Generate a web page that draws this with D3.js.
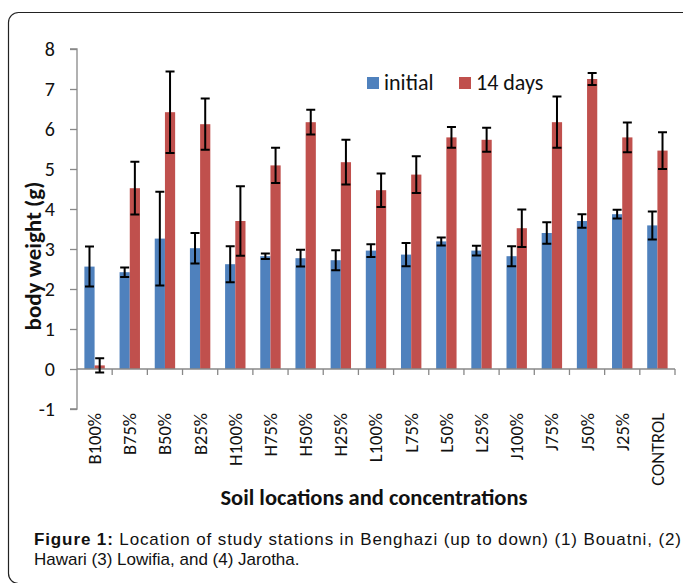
<!DOCTYPE html>
<html lang="en">
<head>
    <meta charset="utf-8" />
    <script src="https://d3js.org/d3.v7.min.js"></script>
    <style>
        body { margin: 0; background: #fff; }
        svg { display: block; }
    </style>
</head>
<body>
<div id="chart"></div>
<script>
    // categories and values
    var categories = ["B100%", "B75%", "B50%", "B25%", "H100%", "H75%", "H50%", "H25%",
        "L100%", "L75%", "L50%", "L25%", "J100%", "J75%", "J50%", "J25%", "CONTROL"];
    var initial = [2.56, 2.42, 3.26, 3.02, 2.62, 2.82, 2.77, 2.72, 2.96, 2.86, 3.19, 2.96, 2.82, 3.40, 3.70, 3.87, 3.59];
    var initialErr = [0.50, 0.12, 1.17, 0.38, 0.45, 0.07, 0.21, 0.25, 0.16, 0.29, 0.10, 0.12, 0.25, 0.27, 0.17, 0.11, 0.35];
    var days14 = [0.09, 4.52, 6.42, 6.12, 3.70, 5.09, 6.17, 5.17, 4.47, 4.86, 5.79, 5.73, 3.52, 6.17, 7.25, 5.79, 5.46];
    var days14Err = [0.18, 0.66, 1.02, 0.64, 0.87, 0.44, 0.31, 0.56, 0.42, 0.46, 0.26, 0.30, 0.47, 0.64, 0.15, 0.37, 0.46];
    var yTicks = [-1, 0, 1, 2, 3, 4, 5, 6, 7, 8];
    var seriesNames = ["initial", "14 days"];
    var colors = ["#4F81BD", "#C0504D"];

    var W = 683, H = 583;
    var calibri = "Carlito, Lato, 'Open Sans', sans-serif";

    var svg = d3.select("#chart").append("svg")
        .attr("width", W).attr("height", H);

    // cadre arrondi
    svg.append("rect")
        .attr("x", 8.5).attr("y", 12.5)
        .attr("width", 700).attr("height", 571)
        .attr("rx", 10)
        .attr("fill", "none")
        .attr("stroke", "#222")
        .attr("stroke-width", 1.2);

    var x = d3.scaleBand().domain(categories).range([77, 675]);
    var y = d3.scaleLinear().domain([-1, 8]).range([409, 49]);
    var barW = x.bandwidth() * 0.29;

    // axe Y
    var yAxis = svg.append("g")
        .attr("transform", "translate(77,0)")
        .call(d3.axisLeft(y).tickValues(yTicks).tickSize(7).tickFormat(function (d) { return String(d); }));
    yAxis.select(".domain").attr("stroke", "#888").attr("stroke-width", 1.3)
        .attr("d", "M-7," + y(8) + "H0V" + y(-1) + "H-7");
    yAxis.selectAll(".tick line").attr("stroke", "#888").attr("stroke-width", 1.3);
    yAxis.selectAll(".tick text")
        .attr("x", -22)
        .style("font-family", calibri)
        .style("font-size", "20px")
        .attr("fill", "#111");

    // bars
    var series = [initial, days14];
    var errs = [initialErr, days14Err];
    series.forEach(function (vals, s) {
        var g = svg.append("g").attr("class", "serie" + s);
        g.selectAll("rect")
            .data(vals)
            .enter()
            .append("rect")
            .attr("x", function (d, i) { return x(categories[i]) + x.bandwidth() / 2 - barW + s * barW; })
            .attr("width", barW)
            .attr("y", function (d) { return y(Math.max(d, 0)); })
            .attr("height", function (d) { return Math.abs(y(d) - y(0)); })
            .attr("fill", colors[s]);
    });

    // axe X (ligne a zero)
    var xAxis = svg.append("g")
        .attr("transform", "translate(0," + y(0) + ")");
    xAxis.append("line")
        .attr("x1", 77).attr("x2", 675)
        .attr("stroke", "#888").attr("stroke-width", 1.3);
    xAxis.selectAll(".tk")
        .data(categories)
        .enter()
        .append("line")
        .attr("x1", function (d) { return x(d) + x.step(); })
        .attr("x2", function (d) { return x(d) + x.step(); })
        .attr("y1", 0).attr("y2", 6)
        .attr("stroke", "#888").attr("stroke-width", 1.3);

    // error bars
    series.forEach(function (vals, s) {
        var g = svg.append("g").attr("class", "err" + s);
        vals.forEach(function (v, i) {
            var cx = x(categories[i]) + x.bandwidth() / 2 - barW / 2 + s * barW;
            var e = errs[s][i];
            g.append("path")
                .attr("d", "M" + cx + "," + y(v + e) + "V" + y(v - e) +
                    "M" + (cx - 4.5) + "," + y(v + e) + "H" + (cx + 4.5) +
                    "M" + (cx - 4.5) + "," + y(v - e) + "H" + (cx + 4.5))
                .attr("stroke", "#000")
                .attr("stroke-width", 2)
                .attr("fill", "none");
        });
    });

    // labels categories (verticaux)
    svg.append("g").selectAll("text")
        .data(categories)
        .enter()
        .append("text")
        .attr("transform", function (d) {
            return "translate(" + (x(d) + x.bandwidth() / 2) + ",413) rotate(-90)";
        })
        .attr("text-anchor", "end")
        .attr("dy", "0.35em")
        .style("font-family", calibri)
        .style("font-size", "18.5px")
        .attr("fill", "#111")
        .text(function (d) { return d; });

    // titres des axes
    svg.append("text")
        .attr("transform", "translate(41,256) rotate(-90)")
        .attr("text-anchor", "middle")
        .style("font-family", calibri)
        .style("font-size", "23px")
        .style("font-weight", "bold")
        .attr("fill", "#111")
        .text("body weight (g)");

    svg.append("text")
        .attr("x", 374).attr("y", 505)
        .attr("text-anchor", "middle")
        .style("font-family", calibri)
        .style("font-size", "22.5px")
        .style("font-weight", "bold")
        .attr("fill", "#111")
        .text("Soil locations and concentrations");

    // legende
    var legX = [367, 459];
    var leg = svg.append("g");
    seriesNames.forEach(function (n, s) {
        leg.append("rect")
            .attr("x", legX[s]).attr("y", 77)
            .attr("width", 12).attr("height", 12)
            .attr("fill", colors[s]);
        leg.append("text")
            .attr("x", legX[s] + 17).attr("y", 90)
            .style("font-family", calibri)
            .style("font-size", "22px")
            .attr("fill", "#111")
            .text(n);
    });

    // legende de la figure (premiere ligne justifiee)
    var cap = svg.append("g")
        .style("font-family", "'Liberation Sans', Arial, sans-serif")
        .style("font-size", "17px")
        .attr("fill", "#111");
    var l1 = cap.append("text").attr("x", 34).attr("y", 545)
        .attr("textLength", 647)
        .attr("lengthAdjust", "spacing");
    l1.append("tspan").style("font-weight", "bold").text("Figure 1:");
    l1.append("tspan").text(" Location of study stations in Benghazi (up to down) (1) Bouatni, (2)");
    cap.append("text").attr("x", 34).attr("y", 565)
        .text("Hawari (3) Lowifia, and (4) Jarotha.");
</script>
</body>
</html>
